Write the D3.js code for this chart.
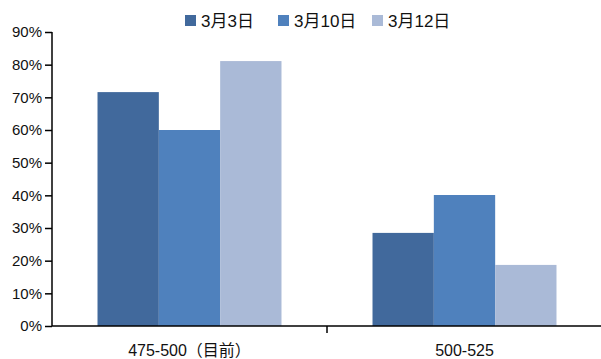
<!DOCTYPE html>
<head>
    <meta charset="utf-8">
    <style>
        body { margin: 0; background: #fff; }
        text { font-family: "Liberation Sans", Arial, "Noto Sans CJK SC", sans-serif; fill: #111; }
    </style>
</head>
<body>
    <div id="chart"></div>
    <script src="https://cdn.jsdelivr.net/npm/d3@7"></script>
    <script>
        var categories = ["475-500（目前）", "500-525"]
        var seriesNames = ["3月3日", "3月10日", "3月12日"]
        var mar3 = [71.6, 28.5]
        var mar10 = [60.0, 40.1]
        var mar12 = [81.1, 18.7]
        var yTicks = [0, 10, 20, 30, 40, 50, 60, 70, 80, 90]
        var colors = ["#41699c", "#4f81bd", "#aabad7"]

        var width = 601, height = 359
        var margin = { top: 32, right: -1, bottom: 33, left: 52 }
        var series = [mar3, mar10, mar12]

        var svg = d3.select("#chart").append("svg")
            .attr("width", width).attr("height", height)

        var x0 = d3.scaleBand().domain(categories)
            .range([margin.left, width - margin.right])
            .paddingInner(0.331).paddingOuter(0.1655)
        var x1 = d3.scaleBand().domain(seriesNames)
            .range([0, x0.bandwidth()])
        var y = d3.scaleLinear().domain([0, 90])
            .range([height - margin.bottom, margin.top])

        // bars
        categories.forEach(function (c, i) {
            svg.append("g").selectAll("rect")
                .data(seriesNames)
                .join("rect")
                .attr("x", (s) => x0(c) + x1(s))
                .attr("width", x1.bandwidth())
                .attr("y", (s, k) => y(series[k][i]))
                .attr("height", (s, k) => y(0) - y(series[k][i]))
                .attr("fill", (s, k) => colors[k])
        })

        // y axis
        var yAxis = svg.append("g")
            .attr("transform", "translate(" + margin.left + ",0)")
            .call(d3.axisLeft(y).tickValues(yTicks).tickFormat((d) => d + "%").tickSize(7).tickPadding(3))
        yAxis.selectAll("path, line").attr("stroke", "#000").attr("stroke-width", 1.5)
        yAxis.select(".domain").attr("d", "M0," + y(90) + "V" + y(0))
        yAxis.selectAll("text").style("font-size", "15px").attr("fill", "#111")

        // x axis with ticks at category boundaries
        var step = x0.step()
        var xAxis = svg.append("g")
        xAxis.append("line")
            .attr("x1", margin.left).attr("x2", width)
            .attr("y1", y(0)).attr("y2", y(0))
            .attr("stroke", "#000").attr("stroke-width", 1.5)
        xAxis.selectAll(".tk")
            .data(categories.slice(1))
            .join("line")
            .attr("class", "tk")
            .attr("x1", (d) => x0(d) - x0.paddingInner() * step / 2)
            .attr("x2", (d) => x0(d) - x0.paddingInner() * step / 2)
            .attr("y1", y(0)).attr("y2", y(0) + 7)
            .attr("stroke", "#000").attr("stroke-width", 1.5)
        xAxis.selectAll(".lbl")
            .data(categories)
            .join("text")
            .attr("class", "lbl")
            .attr("x", (d) => x0(d) + x0.bandwidth() / 2)
            .attr("y", y(0) + 30)
            .attr("text-anchor", "middle")
            .style("font-size", "16px")
            .text((d) => d)

        // legend
        var legendX = [185, 278, 372]
        var legend = svg.append("g").selectAll("g")
            .data(seriesNames)
            .join("g")
            .attr("transform", (d, i) => "translate(" + legendX[i] + ",15)")
        legend.append("rect")
            .attr("width", 11).attr("height", 11)
            .attr("fill", (d, i) => colors[i])
        legend.append("text")
            .attr("x", 16).attr("y", 12)
            .style("font-size", "17px")
            .text((d) => d)
    </script>
</body>
